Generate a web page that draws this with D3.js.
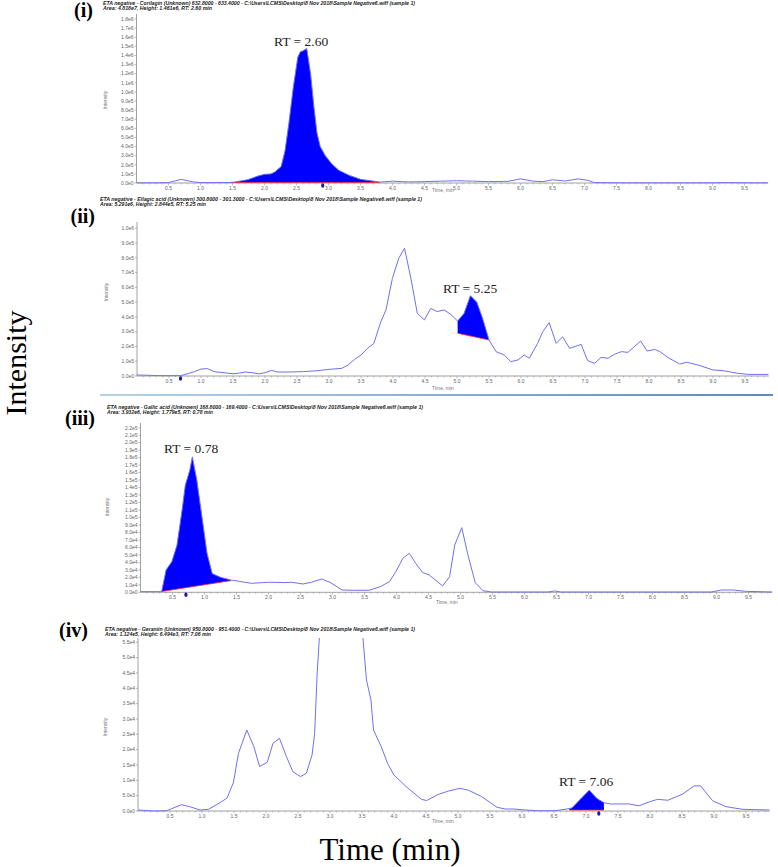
<!DOCTYPE html>
<html>
<head>
<meta charset="utf-8">
<script src="https://cdn.jsdelivr.net/npm/d3@7"></script>
<style>
  body { margin: 0; background: #fff; }
  svg { display: block; }
</style>
</head>
<body>
<svg id="chart" width="778" height="867"></svg>
<script>
// ---- data (time in min, intensity in panel units) ----
var timeI = [0, 0.3, 0.5, 0.7, 0.9, 1.0, 1.2, 1.45, 1.53, 1.74, 1.9, 2.0, 2.1, 2.16, 2.26, 2.32, 2.38, 2.45, 2.52, 2.56, 2.6, 2.66, 2.72, 2.77, 2.82, 2.87, 2.95, 3.05, 3.16, 3.32, 3.5, 3.8, 4.0, 4.25, 4.5, 4.75, 5.0, 5.25, 5.5, 5.8, 6.0, 6.2, 6.35, 6.5, 6.7, 6.9, 7.05, 7.15, 7.5, 8.0, 8.5, 9.0, 9.2, 9.5, 9.87];
var intensityI = [0.02, 0.02, 0.05, 0.4, 0.1, 0.05, 0.05, 0.06, 0.1, 0.37, 0.77, 0.95, 1.0, 1.2, 1.8, 3.5, 6.5, 10.5, 13.8, 14.4, 14.5, 14.76, 12.0, 8.5, 5.5, 4.0, 3.0, 2.1, 1.4, 0.85, 0.4, 0.1, 0.2, 0.12, 0.15, 0.2, 0.25, 0.2, 0.15, 0.18, 0.45, 0.2, 0.15, 0.35, 0.22, 0.45, 0.3, 0.05, 0.02, 0.02, 0.02, 0.02, 0.05, 0.02, 0.02];

var timeII = [0, 0.3, 0.5, 0.68, 0.75, 0.9, 1.0, 1.1, 1.2, 1.4, 1.5, 1.6, 1.7, 1.8, 1.9, 2.0, 2.1, 2.2, 2.4, 2.6, 2.8, 3.0, 3.2, 3.3, 3.4, 3.5, 3.6, 3.7, 3.81, 3.89, 3.99, 4.09, 4.18, 4.28, 4.38, 4.49, 4.59, 4.69, 4.8, 4.9, 5.01, 5.11, 5.21, 5.31, 5.4, 5.5, 5.61, 5.74, 5.84, 5.95, 6.05, 6.13, 6.26, 6.34, 6.44, 6.55, 6.65, 6.76, 6.94, 7.04, 7.15, 7.25, 7.36, 7.46, 7.57, 7.67, 7.87, 7.97, 8.09, 8.17, 8.3, 8.48, 8.59, 8.77, 9.0, 9.16, 9.39, 9.55, 9.87];
var intensityII = [0.07, 0.03, 0.02, 0.03, 0.1, 0.3, 0.47, 0.5, 0.3, 0.2, 0.15, 0.2, 0.27, 0.22, 0.15, 0.22, 0.38, 0.27, 0.27, 0.3, 0.35, 0.45, 0.52, 0.75, 1.13, 1.42, 1.87, 2.2, 3.68, 4.47, 6.6, 7.97, 8.65, 6.6, 4.24, 3.8, 4.58, 4.36, 4.47, 4.18, 3.72, 4.24, 5.44, 4.99, 3.9, 2.44, 1.65, 1.42, 0.97, 1.08, 1.42, 1.2, 2.21, 3.0, 3.61, 2.21, 2.66, 1.87, 2.14, 1.04, 0.86, 1.26, 1.2, 1.47, 1.65, 1.6, 2.37, 1.69, 1.8, 1.65, 1.24, 0.81, 0.93, 0.74, 0.41, 0.36, 0.18, 0.11, 0.11];

var timeIII = [0, 0.15, 0.33, 0.4, 0.49, 0.57, 0.65, 0.7, 0.77, 0.81, 0.88, 0.96, 1.04, 1.12, 1.25, 1.41, 1.57, 1.73, 2.0, 2.25, 2.36, 2.54, 2.67, 2.83, 2.96, 3.15, 3.31, 3.57, 3.75, 3.89, 3.99, 4.1, 4.2, 4.3, 4.41, 4.51, 4.62, 4.72, 4.83, 4.91, 5.02, 5.11, 5.23, 5.35, 5.48, 6.37, 6.47, 6.57, 8.92, 9.08, 9.26, 9.45, 9.87];
var intensityIII = [0.09, 0.09, 0.09, 2.98, 4.1, 6.3, 11.0, 14.3, 16.3, 18.1, 15.0, 10.1, 5.2, 2.5, 2.0, 1.65, 1.43, 1.2, 1.34, 1.3, 1.34, 1.11, 1.34, 1.78, 1.34, 0.31, 0.27, 0.27, 0.76, 1.43, 2.76, 4.54, 5.21, 3.88, 2.63, 2.32, 1.56, 0.85, 2.09, 6.33, 8.64, 5.21, 1.29, 0.22, 0.04, 0.04, 0.18, 0.04, 0.04, 0.31, 0.31, 0.13, 0.04];

var timeIV = [0, 0.24, 0.45, 0.68, 0.81, 0.97, 1.1, 1.28, 1.39, 1.49, 1.57, 1.7, 1.81, 1.9, 2.02, 2.11, 2.21, 2.32, 2.42, 2.54, 2.63, 2.72, 2.76, 2.8, 2.85, 2.95, 3.1, 3.25, 3.4, 3.5, 3.57, 3.64, 3.68, 3.8, 3.9, 4.0, 4.22, 4.43, 4.51, 4.69, 4.85, 5.03, 5.16, 5.37, 5.61, 5.74, 5.87, 6.05, 6.26, 6.52, 6.7, 6.78, 6.91, 7.05, 7.17, 7.28, 7.38, 7.67, 7.83, 7.99, 8.12, 8.28, 8.51, 8.69, 8.79, 8.98, 9.19, 9.45, 9.87];
var intensityIV = [0.33, 0, 0.1, 2.07, 1.4, 0.33, 0.54, 2.7, 4.2, 9.2, 18.8, 26.4, 21.0, 14.5, 15.9, 22.1, 23.7, 17.7, 12.8, 11.2, 12.3, 18.3, 25.3, 45, 62, 85, 100, 95, 80, 60, 42.7, 36.2, 26.4, 21, 15.5, 11.7, 7.4, 3.8, 3.4, 5.4, 6.5, 7.4, 6.8, 4.7, 1.2, 0.65, 0.65, 0.33, 0.1, 0.1, 0.65, 1.0, 3.8, 6.8, 4.1, 2.7, 2.3, 2.3, 1.7, 3.0, 3.8, 3.5, 5.5, 8.2, 8.2, 3.3, 1.4, 0.54, 0.33];

// integrated peak: [start, end] time and the baseline heights at those ends
var peakWindows = [[1.45, 3.8], [5.01, 5.5], [0.33, 1.41], [6.74, 7.28]];
var peakBases = [[0.05, 0.05], [2.89, 2.44], [0.1, 1.56], [0.3, 0.3]];
var retentionTimes = ["2.60", "5.25", "0.78", "7.06"];
var markerTimes = [2.91, 0.68, 0.71, 7.2];

var panelLabels = ["(i)", "(ii)", "(iii)", "(iv)"];
var headerLines = [
  ["ETA negative - Corilagin (Unknown) 632.8000 - 633.4000 - C:\\Users\\LCMS\\Desktop\\8 Nov 2018\\Sample Negative6.wiff (sample 1)", "Area: 4.818e7, Height: 1.461e6, RT: 2.60 min"],
  ["ETA negative - Ellagic acid (Unknown) 300.8000 - 301.3000 - C:\\Users\\LCMS\\Desktop\\8 Nov 2018\\Sample Negative6.wiff (sample 1)", "Area: 5.291e6, Height: 2.844e5, RT: 5.25 min"],
  ["ETA negative - Gallic acid (Unknown) 168.8000 - 169.4000 - C:\\Users\\LCMS\\Desktop\\8 Nov 2018\\Sample Negative6.wiff (sample 1)", "Area: 3.932e6, Height: 1.779e5, RT: 0.78 min"],
  ["ETA negative - Geraniin (Unknown) 950.8000 - 951.4000 - C:\\Users\\LCMS\\Desktop\\8 Nov 2018\\Sample Negative6.wiff (sample 1)", "Area: 1.124e5, Height: 6.494e3, RT: 7.06 min"]
];
var yUnits = [1e5, 1e5, 1e4, 1e3];
var yMaxes = [18, 10, 22, 55];
var yTickSteps = [1, 1, 1, 5];
var xTickLabels = ["0.5","1.0","1.5","2.0","2.5","3.0","3.5","4.0","4.5","5.0","5.5","6.0","6.5","7.0","7.5","8.0","8.5","9.0","9.5"];
var timeMax = 9.87;

// ---- layout ----
var layout = [
  {x0: 136.5, yBase: 183, yTop: 19, axisTop: 14, lab: [93, 17], head: [103, 5, 312, 109], rt: [274, 46], tm: [443, 192], ylab: [107, 100]},
  {x0: 137, yBase: 376, yTop: 228.3, axisTop: 222, lab: [95, 223], head: [100, 201, 322, 106], rt: [443, 293], tm: [443, 390], ylab: [108, 292]},
  {x0: 140.5, yBase: 592.3, yTop: 427.7, axisTop: 423, lab: [95, 425], head: [107, 409, 316, 106], rt: [164, 453], tm: [447, 604], ylab: [109, 507]},
  {x0: 138, yBase: 811, yTop: 642.3, axisTop: 638, lab: [88, 637], head: [105, 631, 310, 106], rt: [559, 786], tm: [443, 823], ylab: [107, 727]}
];
var series = [[timeI, intensityI], [timeII, intensityII], [timeIII, intensityIII], [timeIV, intensityIV]];

var svg = d3.select("#chart");
var defs = svg.append("defs");

function fmtSci(v) {
  if (v === 0) return "0.0e0";
  var e = Math.floor(Math.log10(v) + 1e-9);
  return (v / Math.pow(10, e)).toFixed(1) + "e" + e;
}
function valueAt(ts, vs, t) {
  for (var i = 1; i < ts.length; i++) {
    if (t <= ts[i]) {
      var f = (t - ts[i-1]) / (ts[i] - ts[i-1]);
      return vs[i-1] + f * (vs[i] - vs[i-1]);
    }
  }
  return vs[vs.length-1];
}

layout.forEach(function(L, p) {
  var ts = series[p][0], vs = series[p][1];
  var x = d3.scaleLinear().domain([0, timeMax]).range([L.x0, L.x0 + timeMax * 64]);
  var y = d3.scaleLinear().domain([0, yMaxes[p]]).range([L.yBase, L.yTop]);
  var g = svg.append("g");

  defs.append("clipPath").attr("id", "clip" + p).append("rect")
    .attr("x", L.x0).attr("y", L.axisTop)
    .attr("width", timeMax * 64).attr("height", L.yBase - L.axisTop + 1);

  // header text (tiny bold italic)
  g.selectAll("text.head").data(headerLines[p]).enter().append("text")
    .attr("x", L.head[0]).attr("y", function(d, i){ return L.head[1] + i * 5.3; })
    .attr("textLength", function(d, i){ return i === 0 ? L.head[2] : L.head[3]; })
    .attr("lengthAdjust", "spacingAndGlyphs")
    .style("font", "italic bold 5.5px Arial, sans-serif").attr("fill", "#222")
    .text(function(d){ return d; });

  // panel label
  g.append("text").attr("x", L.lab[0]).attr("y", L.lab[1])
    .attr("text-anchor", "end")
    .style("font", "bold 20px 'Liberation Serif', 'Times New Roman', serif")
    .text(panelLabels[p]);

  // y axis
  var yTicks = d3.range(0, yMaxes[p] + 0.001, yTickSteps[p]);
  g.append("line").attr("x1", L.x0).attr("x2", L.x0)
    .attr("y1", L.axisTop).attr("y2", L.yBase).attr("stroke", "#8a8a8a").attr("stroke-width", 0.8);
  g.selectAll("line.yt").data(yTicks).enter().append("line")
    .attr("x1", L.x0 - 2).attr("x2", L.x0)
    .attr("y1", function(d){ return y(d); }).attr("y2", function(d){ return y(d); })
    .attr("stroke", "#8a8a8a").attr("stroke-width", 0.6);
  g.selectAll("text.yt").data(yTicks).enter().append("text")
    .attr("x", L.x0 - 3).attr("y", function(d){ return y(d) + 1.8; })
    .attr("text-anchor", "end")
    .style("font", "5px Arial, sans-serif").attr("fill", "#666")
    .text(function(d){ return fmtSci(d * yUnits[p]); });
  g.append("text")
    .attr("transform", "translate(" + L.ylab[0] + "," + L.ylab[1] + ") rotate(-90)")
    .attr("text-anchor", "middle")
    .style("font", "5px Arial, sans-serif").attr("fill", "#777")
    .text("Intensity");

  // x axis
  var xEnd = L.x0 + timeMax * 64;
  g.append("line").attr("x1", L.x0).attr("x2", xEnd)
    .attr("y1", L.yBase).attr("y2", L.yBase).attr("stroke", "#8a8a8a").attr("stroke-width", 0.8);
  var minor = d3.range(0.1, timeMax, 0.1);
  g.selectAll("line.xt").data(minor).enter().append("line")
    .attr("x1", function(d){ return x(d); }).attr("x2", function(d){ return x(d); })
    .attr("y1", L.yBase).attr("y2", function(d){ return L.yBase + (Math.abs(d * 2 - Math.round(d * 2)) < 0.01 ? 2.5 : 1.5); })
    .attr("stroke", "#8a8a8a").attr("stroke-width", 0.5);
  g.selectAll("text.xt").data(xTickLabels).enter().append("text")
    .attr("x", function(d){ return x(+d); }).attr("y", L.yBase + 6.5)
    .attr("text-anchor", "middle")
    .style("font", "5px Arial, sans-serif").attr("fill", "#666")
    .text(function(d){ return d; });
  g.append("text").attr("x", L.tm[0]).attr("y", L.tm[1])
    .attr("text-anchor", "middle")
    .style("font", "5px Arial, sans-serif").attr("fill", "#777")
    .text("Time, min");

  // integrated peak fill
  var w = peakWindows[p], b = peakBases[p];
  var poly = [[w[0], valueAt(ts, vs, w[0])]];
  ts.forEach(function(t, i){ if (t > w[0] && t < w[1]) poly.push([t, vs[i]]); });
  poly.push([w[1], valueAt(ts, vs, w[1])]);
  poly.push([w[1], b[1]]);
  poly.push([w[0], b[0]]);
  var plot = g.append("g").attr("clip-path", "url(#clip" + p + ")");
  plot.append("path")
    .attr("d", d3.line().x(function(d){ return x(d[0]); }).y(function(d){ return y(d[1]); })(poly) + "Z")
    .attr("fill", "#0000ff");
  plot.append("line")
    .attr("x1", x(w[0])).attr("y1", y(b[0])).attr("x2", x(w[1])).attr("y2", y(b[1]))
    .attr("stroke", "#ff2a2a").attr("stroke-width", 0.8);

  // trace
  plot.append("path")
    .datum(ts.map(function(t, i){ return [t, vs[i]]; }))
    .attr("d", d3.line().x(function(d){ return x(d[0]); }).y(function(d){ return y(d[1]); }))
    .attr("fill", "none").attr("stroke", "#7070f0").attr("stroke-width", 1);

  // apex marker under the axis
  g.append("ellipse").attr("cx", x(markerTimes[p])).attr("cy", L.yBase + 2.5)
    .attr("rx", 1.6).attr("ry", 2.2).attr("fill", "#1a1aa8");

  // RT annotation
  g.append("text").attr("x", L.rt[0]).attr("y", L.rt[1])
    .style("font", "13.5px 'Liberation Serif', 'Times New Roman', serif").attr("fill", "#222")
    .text("RT = " + retentionTimes[p]);
});

// separator between (ii) and (iii)
var grad = defs.append("linearGradient").attr("id", "sepGrad");
grad.append("stop").attr("offset", "0%").attr("stop-color", "#b7d3e8");
grad.append("stop").attr("offset", "100%").attr("stop-color", "#5b8cba");
svg.append("rect").attr("x", 100).attr("y", 394).attr("width", 673).attr("height", 2)
  .attr("fill", "url(#sepGrad)");

// shared axis titles
svg.append("text").attr("x", 390).attr("y", 860).attr("text-anchor", "middle")
  .style("font", "31px 'Liberation Serif', 'Times New Roman', serif").text("Time (min)");
svg.append("text").attr("transform", "translate(26,363) rotate(-90)").attr("text-anchor", "middle")
  .style("font", "30px 'Liberation Serif', 'Times New Roman', serif").text("Intensity");
</script>
</body>
</html>
